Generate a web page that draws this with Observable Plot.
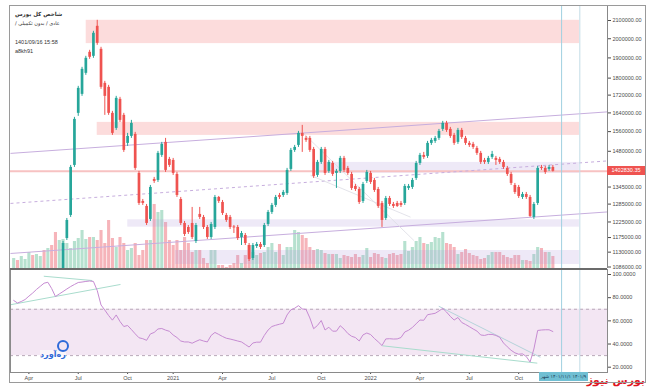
<!DOCTYPE html>
<html><head><meta charset="utf-8">
<script src="https://cdn.jsdelivr.net/npm/d3@7"></script>
<script src="https://cdn.jsdelivr.net/npm/@observablehq/plot@0.6"></script>
<style>
body{margin:0;background:#fff;}
#wrap{position:relative;width:648px;height:392px;overflow:hidden;background:#fff;font-family:"Liberation Sans","DejaVu Sans",sans-serif;}
#wrap svg{position:absolute;left:0;}
.t{position:absolute;white-space:nowrap;color:#333;}
</style></head><body><div id="wrap"></div>
<script>
// ---------- DATA ----------
const candleStart = 13; // index of first visible weekly candle
const opens = [1065000,1172100,1246600,1425100,1638100,1723500,1823200,1928700,1908100,2067700,1944200,1775000,1756100,1638100,1573500,1700600,1629300,1511600,1540200,1548500,1395000,1294200,1277000,1233300,1372700,1369000,1463800,1515700,1448200,1444300,1391200,1301100,1220200,1207200,1220200,1162700,1250000,1240000,1207200,1175300,1207200,1308100,1290700,1246600,1240000,1208800,1207200,1175300,1181600,1150300,1111100,1147300,1153400,1150300,1216900,1256700,1280400,1315100,1315100,1322200,1410000,1483500,1503500,1552600,1532000,1532000,1487400,1387500,1436600,1487400,1402500,1432800,1395000,1402500,1452100,1413800,1391200,1347200,1336400,1294200,1365400,1395000,1369000,1336400,1287300,1236600,1304600,1283800,1287300,1287300,1287300,1340000,1343600,1376400,1432800,1463800,1459900,1511600,1519700,1532000,1569300,1594800,1569300,1544300,1515700,1565100,1532000,1511600,1507600,1491400,1471700,1444300,1436600,1456000,1452100,1448200,1436600,1413800,1391200,1350800,1343600,1308100,1318600,1308100,1240000,1287300,1417500,1413800,1410000,1417500];
const highs = [1162700,1236600,1425100,1620600,1760800,1852700,1908100,1939000,2040200,2101100,1954700,1784500,1765500,1646800,1714300,1709700,1638100,1552600,1607600,1556800,1402500,1301100,1283800,1350800,1380100,1479600,1515700,1532000,1456000,1452100,1398700,1308100,1226700,1213600,1273600,1220200,1273600,1246600,1213600,1223500,1315100,1311600,1297600,1253300,1246600,1213600,1213600,1194300,1187900,1156500,1156500,1159600,1159600,1220200,1263400,1287300,1315100,1322200,1332800,1413800,1491400,1503500,1560900,1586200,1540200,1540200,1495400,1444300,1495400,1495400,1444300,1440500,1410000,1459900,1459900,1421300,1398700,1354400,1343600,1361700,1406200,1402500,1376400,1343600,1294200,1311600,1311600,1290700,1294200,1294200,1354400,1354400,1376400,1440500,1471700,1475600,1519700,1532000,1540200,1569300,1603300,1603300,1577700,1552600,1573500,1573500,1540200,1519700,1515700,1499500,1479600,1452100,1459900,1479600,1459900,1456000,1444300,1421300,1398700,1358100,1350800,1325700,1325700,1315100,1290700,1421300,1425100,1421300,1425100,1425100];
const lows = [1050000,1165800,1240000,1417500,1625000,1714300,1813400,1892800,1897900,1965100,1746700,1629300,1629300,1544300,1565100,1598900,1475600,1499500,1532000,1406200,1280400,1280400,1213600,1226700,1358100,1361700,1456000,1398700,1417500,1387500,1308100,1213600,1178400,1184800,1169000,1156500,1233300,1200700,1169000,1169000,1200700,1287300,1246600,1223500,1200700,1187900,1165800,1150300,1150300,1102200,1105100,1141100,1138100,1144200,1210400,1250000,1273600,1301100,1308100,1315100,1402500,1475600,1495400,1475600,1515700,1475600,1376400,1380100,1428900,1387500,1395000,1383800,1340000,1395000,1398700,1387500,1332800,1329300,1283800,1287300,1358100,1354400,1325700,1270200,1207200,1230000,1277000,1270200,1273600,1273600,1280400,1332800,1336400,1369000,1425100,1448200,1452100,1503500,1511600,1523800,1560900,1556800,1532000,1503500,1507600,1527900,1503500,1495400,1487400,1463800,1428900,1428900,1428900,1448200,1425100,1428900,1410000,1383800,1350800,1318600,1304600,1301100,1301100,1240000,1233300,1280400,1406200,1391200,1402500,1400000];
const closes = [1156500,1230000,1417500,1611900,1751400,1842800,1897900,1903000,2029300,1975700,1756100,1714300,1638100,1552600,1705200,1607600,1483500,1540200,1594800,1413800,1287300,1287300,1220200,1343600,1365400,1471700,1507600,1406200,1425100,1395000,1315100,1220200,1184800,1191100,1175300,1213600,1240000,1207200,1175300,1216900,1308100,1294200,1253300,1230000,1207200,1205600,1172100,1187900,1156500,1108100,1150300,1153400,1144200,1213600,1256700,1280400,1308100,1308100,1325700,1406200,1483500,1495400,1552600,1540200,1523800,1483500,1383800,1436600,1487400,1395000,1436600,1391200,1402500,1452100,1406200,1395000,1340000,1336400,1290700,1354400,1398700,1361700,1332800,1277000,1230000,1304600,1283800,1277000,1277000,1280400,1347200,1347200,1369000,1432800,1463800,1456000,1511600,1523800,1532000,1560900,1594800,1565100,1540200,1511600,1565100,1536100,1511600,1503500,1495400,1471700,1436600,1436600,1452100,1467700,1444300,1436600,1417500,1391200,1358100,1325700,1311600,1318600,1308100,1243300,1283800,1413800,1413800,1398700,1417500,1402830.35];
// weekly volume (relative units), from the first visible bar
const volumes = [10,8,12,9,16,13,14,12,18,20,23,36,28,29,25,20,27,30,38,29,31,31,28,38,25,48,30,21,31,25,18,20,25,13,18,28,28,64,56,58,46,28,23,28,18,31,25,16,18,18,10,5,18,18,3,3,1,3,5,13,5,13,23,16,13,15,16,21,25,16,24,13,21,21,38,36,33,30,21,18,19,18,15,14,14,14,10,13,12,11,14,11,13,20,11,15,14,11,10,14,15,13,14,27,17,21,27,31,25,24,26,31,30,36,25,24,21,14,16,19,15,13,12,9,10,13,16,16,16,13,11,10,13,13,8,8,7,14,21,20,16,16,12];
const volEarlyUp = [1,0,1,1,1,0,1,1,0,1,0,0,1];
const rsiValues = [77.6,75.4,76.7,78.4,81.3,84.0,87.1,89.8,92.5,93.3,87.9,81.0,83.2,85.3,87.5,89.6,91.4,93.1,93.5,94.0,94.4,94.0,86.2,73.7,69.3,64.6,60.6,65.1,59.4,55.1,56.0,52.5,48.8,45.4,44.6,43.2,48.7,50.0,53.0,53.4,52.0,51.0,47.8,45.6,42.6,41.8,41.8,40.7,42.3,43.7,42.6,41.8,47.4,50.0,48.3,46.5,45.0,44.3,43.5,42.6,41.8,39.6,37.4,40.9,41.6,41.6,47.4,52.1,55.1,56.2,57.1,57.9,65.1,69.5,70.9,73.1,70.3,69.8,62.5,53.2,56.0,60.3,52.1,54.5,51.1,51.1,55.8,52.9,49.1,46.7,45.6,42.6,47.9,49.5,48.2,44.8,41.9,38.7,44.4,44.6,44.3,44.4,45.6,50.4,51.9,54.3,57.5,60.7,60.5,65.3,65.9,66.5,68.5,70.8,67.6,63.8,60.7,62.9,58.6,56.9,55.0,53.0,51.2,47.8,47.4,48.3,48.3,47.4,45.8,40.9,37.6,34.6,32.4,31.2,31.5,29.2,24.5,35.7,51.7,52.1,52.3,52.3,50.8];
const priceTicks = [2100000,2000000,1900000,1800000,1720000,1640000,1560000,1480000,1345000,1285000,1225000,1175000,1130000,1086000];
const rsiTicks = [100,80,60,40,20];
const xTickIdx = [4,17,30,42,55,68,81,94,107,120,133];
const xTickLabels = ["Apr","Jul","Oct","2021","Apr","Jul","Oct","2022","Apr","Jul","Oct"];
const xDomain = [-0.84, 156.39];
// drawings: zones [i1, i2, priceLow, priceHigh]
const pinkZones = [[19.1,149,1974100,2101100],[22.0,149,1544300,1599000]];
const lavZones = [[78.7,149,1395000,1436600],[30.05,149,1208100,1232300],[42.6,149,1093300,1135100]];
// channel lines [i1, p1, i2, p2]
const channelLines = [[-0.84,1471700,156.39,1644600],[-0.84,1126000,156.39,1258400]];
const midLine = [[-0.84,1287300,156.39,1442400]];
const fadeLines = [[76.4,1551400,105.4,1165800],[78.2,1387500,104.5,1241000]];
const markerIdx = [144.3,149.1];
const rsiTrend = [[7.93,98.5,20.68,94.8],[-0.84,73.9,28.13,91.4],[111.95,72.6,138.7,28.6],[97.05,38.5,137.9,23.5]];
const rsiBand = [30,70];

// ---------- BUILD ----------
const UP="#26a69a", DN="#ef5350";
const candles = opens.map((o,k)=>({i:k+candleStart,open:o,high:highs[k],low:lows[k],close:closes[k],up:closes[k]>=o}));
const vols = volumes.map((v,i)=>({i,v,up: i<candleStart ? volEarlyUp[i]===1 : candles[i-candleStart].up}));
const rsi = rsiValues.map((v,i)=>({i,v}));
const toRect = z=>({x1:z[0],x2:z[1],y1:z[2],y2:z[3]});
const toLink = l=>({x1:l[0],y1:l[1],x2:l[2],y2:l[3]});
const lastClose = closes[closes.length-1];
const font = "Liberation Sans, DejaVu Sans, sans-serif";
const wrap = document.getElementById("wrap");

const volPlot = Plot.plot({
  width:648,height:268,marginLeft:10,marginRight:41,marginTop:0,marginBottom:0,
  style:{background:"transparent"},
  x:{domain:xDomain,axis:null},
  y:{domain:[0,268],axis:null},
  marks:[
    Plot.ruleX(vols,{x:"i",y1:0,y2:"v",stroke:d=>d.up?"#b6e1cf":"#f6b4ba",strokeWidth:3.1,clip:true})
  ]
});
volPlot.style.top="0px";
wrap.appendChild(volPlot);

const pricePlot = Plot.plot({
  width:648,height:273,marginLeft:10,marginRight:41,marginTop:6,marginBottom:5,
  style:{background:"transparent",fontSize:"5.5px",fontFamily:font,color:"#4a4a4a"},
  x:{domain:xDomain,axis:null},
  y:{type:"log",domain:[1086000,2100000],range:[266.5,20],axis:"right",ticks:priceTicks,
     tickFormat:d=>d.toFixed(2),tickSize:3,tickPadding:2,label:null},
  marks:[
    Plot.rect(pinkZones.map(toRect),{x1:"x1",x2:"x2",y1:"y1",y2:"y2",fill:"#fcdcdc",clip:true}),
    Plot.rect(lavZones.map(toRect),{x1:"x1",x2:"x2",y1:"y1",y2:"y2",fill:"#b39ddb",fillOpacity:0.22,clip:true}),
    Plot.ruleY([lastClose],{stroke:"#f7c2c2",strokeWidth:2}),
    Plot.link(channelLines.map(toLink),{x1:"x1",y1:"y1",x2:"x2",y2:"y2",stroke:"#c7aede",strokeWidth:1,clip:true}),
    Plot.link(midLine.map(toLink),{x1:"x1",y1:"y1",x2:"x2",y2:"y2",stroke:"#c7aede",strokeWidth:1,strokeDasharray:"3,3",clip:true}),
    Plot.link(fadeLines.map(toLink),{x1:"x1",y1:"y1",x2:"x2",y2:"y2",stroke:"#dcdce4",strokeWidth:0.8,clip:true}),
    Plot.ruleX(markerIdx,{stroke:(d,k)=>k===0?"#9fd0e0":"#c2dde6",strokeWidth:1}),
    Plot.ruleX(candles,{x:"i",y1:"low",y2:"high",stroke:d=>d.up?UP:DN,strokeWidth:1,clip:true}),
    Plot.ruleX(candles,{x:"i",y1:"open",y2:"close",stroke:d=>d.up?UP:DN,strokeWidth:2.7,clip:true}),
    Plot.ruleX([xDomain[1]],{stroke:"#888",strokeWidth:1})
  ]
});
pricePlot.style.top="0px";
wrap.appendChild(pricePlot);

const rsiPlot = Plot.plot({
  width:648,height:116,marginLeft:10,marginRight:41,marginTop:1,marginBottom:12,
  style:{background:"transparent",fontSize:"5.5px",fontFamily:font,color:"#4a4a4a"},
  x:{domain:xDomain,axis:"bottom",ticks:xTickIdx,tickFormat:d=>xTickLabels[xTickIdx.indexOf(d)],tickSize:2,tickPadding:2,label:null},
  y:{domain:[20,100],range:[98.7,6],axis:"right",ticks:rsiTicks,tickFormat:d=>d.toFixed(4),tickSize:3,tickPadding:2,label:null},
  marks:[
    Plot.rect([rsiBand],{x1:xDomain[0],x2:xDomain[1],y1:d=>d[0],y2:d=>d[1],fill:"#f3e6f3"}),
    Plot.ruleY(rsiBand,{stroke:"#b9a8b9",strokeDasharray:"3,3"}),
    Plot.ruleX(markerIdx,{stroke:(d,k)=>k===0?"#9fd0e0":"#c2dde6",strokeWidth:1}),
    Plot.link(rsiTrend.map(toLink),{x1:"x1",y1:"y1",x2:"x2",y2:"y2",stroke:(d,k)=>k===2?"#b5d3da":"#a9dccd",strokeWidth:1,clip:true}),
    Plot.line(rsi,{x:"i",y:"v",stroke:"#c68bd2",strokeWidth:1,clip:true}),
    Plot.frame({stroke:"#8a8a8a",strokeWidth:1})
  ]
});
rsiPlot.style.top="268px";
wrap.appendChild(rsiPlot);

// pane separator
const sep=document.createElement("div");Object.assign(sep.style,{position:"absolute",left:"10px",top:"268px",width:"597px",height:"2px",background:"#6b6b6b"});wrap.appendChild(sep);

// ---------- TEXT OVERLAYS ----------
function addText(txt,css){const d=document.createElement("div");d.className="t";d.textContent=txt;Object.assign(d.style,css);wrap.appendChild(d);return d;}
addText("شاخص کل بورس",{left:"15px",top:"11px",fontSize:"5.5px",fontWeight:"bold",direction:"rtl",fontFamily:"DejaVu Sans"});
addText("عادی / بدون تکمیلی /",{left:"15px",top:"20px",fontSize:"5px",direction:"rtl",fontFamily:"DejaVu Sans"});
addText("1401/09/16 15:58",{left:"15px",top:"39px",fontSize:"5.5px"});
addText("a8kh91",{left:"15px",top:"48px",fontSize:"5.5px"});
// current price label on axis, positioned with the plot's own scale
const yS = pricePlot.scale("y");
const py = yS.apply(lastClose);
addText(lastClose.toFixed(2),{left:"607px",top:(py-4.5)+"px",width:"38px",height:"9px",lineHeight:"9px",background:"#ef5350",color:"#fff",fontSize:"5.5px",textAlign:"center"});
// date box on time axis
addText("۱۴۰۱/۹  ۱۴۰۱/۱۱/۱  شهر",{left:"539px",top:"372px",width:"49px",height:"9px",lineHeight:"9px",background:"#70bfd3",color:"#1d3d57",fontSize:"4.6px",textAlign:"center",fontFamily:"DejaVu Sans",direction:"rtl",overflow:"hidden"});
// watermarks
addText("ره‌آورد",{left:"40px",top:"350px",fontSize:"8px",fontWeight:"bold",color:"#2f6bd9",fontFamily:"DejaVu Sans",background:"rgba(255,255,255,0.6)"});
const ring=document.createElement("div");Object.assign(ring.style,{position:"absolute",left:"57px",top:"340px",width:"8px",height:"8px",border:"2px solid #2f6bd9",borderRadius:"50%"});wrap.appendChild(ring);
addText("بورس نیوز",{right:"3px",top:"374px",fontSize:"11px",lineHeight:"14px",fontWeight:"bold",color:"#e0141e",fontFamily:"DejaVu Sans"});
// outer border
const bd=document.createElement("div");Object.assign(bd.style,{position:"absolute",left:"9px",top:"5px",width:"637px",height:"378px",border:"1px solid #9a9a9a",boxSizing:"border-box",pointerEvents:"none"});wrap.appendChild(bd);
</script></body></html>
